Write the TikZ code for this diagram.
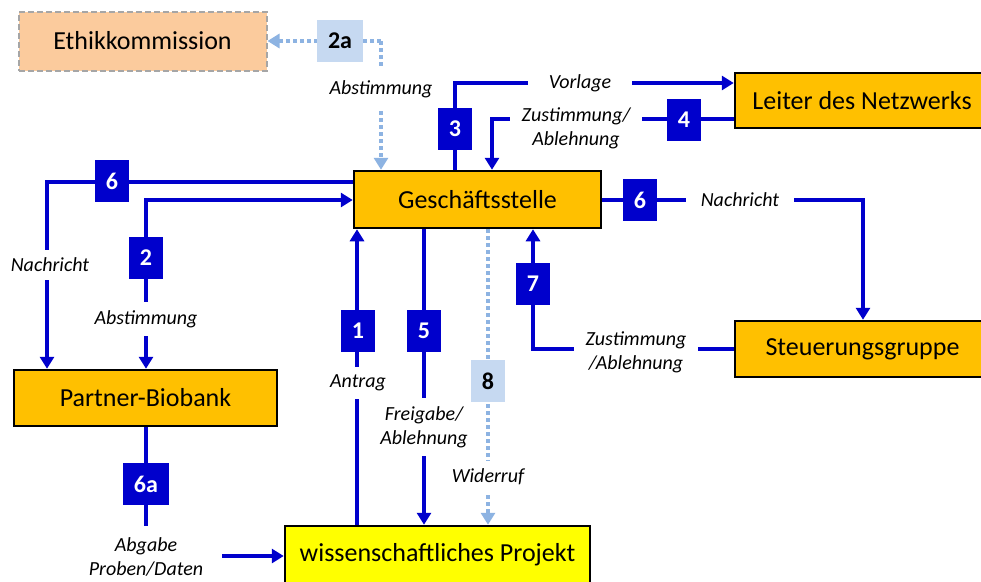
\documentclass[tikz,border=0pt]{standalone}
\usepackage{fontspec}
\setmainfont{Carlito}
\usetikzlibrary{arrows.meta}
\definecolor{bl}{RGB}{0,0,204}
\definecolor{org}{RGB}{255,192,0}
\definecolor{yel}{RGB}{255,255,0}
\definecolor{peach}{RGB}{251,203,157}
\definecolor{grayb}{RGB}{166,166,166}
\definecolor{lb}{RGB}{141,179,226}
\definecolor{lbfill}{RGB}{198,217,241}
\tikzset{
  box/.style={draw=black, line width=2.5pt, fill=org, inner sep=0pt,
    font=\fontsize{26}{30}\selectfont},
  num/.style={fill=bl, text=white, inner xsep=11pt, inner ysep=0pt,
    minimum width=33pt, minimum height=42pt,
    font=\fontsize{24}{28}\selectfont\bfseries},
  lnum/.style={num, fill=lbfill, text=black},
  lab/.style={fill=white, align=center, inner xsep=12pt, inner ysep=8pt,
    font=\fontsize{20}{24}\selectfont\itshape},
  conn/.style={draw=bl, line width=4pt},
  dconn/.style={draw=lb, line width=4pt, dash pattern=on 4pt off 3pt},
  tip/.style={-{Triangle[width=14pt,length=12pt]}},
  tips/.style={{Triangle[width=14pt,length=12pt]}-{Triangle[width=14pt,length=12pt]}}
}
\begin{document}
\begin{tikzpicture}[x=1pt,y=-1pt]
\useasboundingbox[fill=white] (0,0) rectangle (981,581);

% main boxes
\node[box, draw=grayb, line width=2pt, dash pattern=on 6pt off 3pt, fill=peach,
  minimum width=248pt, minimum height=59pt] (ethik) at (142.5,41) {Ethikkommission};
\node[box, minimum width=247pt, minimum height=57pt] (gs) at (477.5,199.5) {Geschäftsstelle};
\node[box, minimum width=254pt, minimum height=55pt] (leiter) at (862,100.5) {Leiter des Netzwerks};
\node[box, minimum width=255pt, minimum height=56pt] (steuer) at (862.5,349) {Steuerungsgruppe};
\node[box, minimum width=263pt, minimum height=56pt] (partner) at (145.5,398) {Partner-Biobank};
\node[box, fill=yel, minimum width=305pt, minimum height=58pt] (projekt) at (437.5,555) {wissenschaftliches Projekt};

% helper coordinates
\coordinate (k1) at (357,0);
\coordinate (k2) at (146,200);
\coordinate (k3) at (455,83);
\coordinate (k4) at (492,119);
\coordinate (k5) at (424,0);
\coordinate (k6) at (47,182);
\coordinate (k6r) at (863,0);
\coordinate (k7) at (533,349);
\coordinate (k8) at (488,0);
\coordinate (k2a) at (381,41);
\coordinate (k6a) at (146,526);
\coordinate (k6b) at (222,556);

% connectors
\draw[dconn, tip] (k2a |- ethik.east) -- (ethik.east);
\draw[dconn, tip] (k2a) -- (k2a |- gs.north);
\draw[conn, tip] (k1 |- projekt.north) -- (k1 |- gs.south);
\draw[conn, tips] (k2 |- partner.north) -- (k2) -- (k2 -| gs.west);
\draw[conn, tip] (k3 |- gs.north) -- (k3) -- (k3 -| leiter.west);
\draw[conn, tip] (k4 -| leiter.west) -- (k4) -- (k4 |- gs.north);
\draw[conn, tip] (k5 |- gs.south) -- (k5 |- projekt.north);
\draw[conn, tip] (k6 -| gs.west) -- (k6) -- (k6 |- partner.north);
\draw[conn, tip] (gs.east) -- (gs.east -| k6r) -- (k6r |- steuer.north);
\draw[conn, tip] (k7 -| steuer.west) -- (k7) -- (k7 |- gs.south);
\draw[dconn, tip] (k8 |- gs.south) -- (k8 |- projekt.north);
\draw[conn] (k6a |- partner.south) -- (k6a);
\draw[conn, tip] (k6b) -- (k6b -| projekt.west);

% labels
\node[lab, inner ysep=11pt] (l2a) at (381,89) {Abstimmung};
\node[lab, inner xsep=21pt] (l3) at (580,83) {Vorlage};
\node[lab] (l4) at (576,128) {Zustimmung/\\Ablehnung};
\node[lab] (l6) at (50,265) {Nachricht};
\node[lab] (l2) at (146,319) {Abstimmung};
\node[lab] (l1) at (358,383) {Antrag};
\node[lab] (l5) at (424,427) {Freigabe/\\Ablehnung};
\node[lab] (l8) at (488,477) {Widerruf};
\node[lab] (l7) at (636,352) {Zustimmung\\/Ablehnung};
\node[lab, inner xsep=15pt] (l6r) at (740,200) {Nachricht};
\node[lab, fill=none] (l6a) at (146,557) {Abgabe\\Proben/Daten};

% number boxes
\node[lnum] (n2a) at (340,41) {2a};
\node[num] (n3) at (455,129) {3};
\node[num] (n4) at (684,120) {4};
\node[num] (n6) at (112,181) {6};
\node[num] (n2) at (146,258) {2};
\node[num] (n1) at (358,331) {1};
\node[num] (n5) at (424,331) {5};
\node[lnum] (n8) at (488,381) {8};
\node[num] (n7) at (533,284) {7};
\node[num] (n6r) at (640,200) {6};
\node[num] (n6a) at (146,484) {6a};
\end{tikzpicture}
\end{document}
